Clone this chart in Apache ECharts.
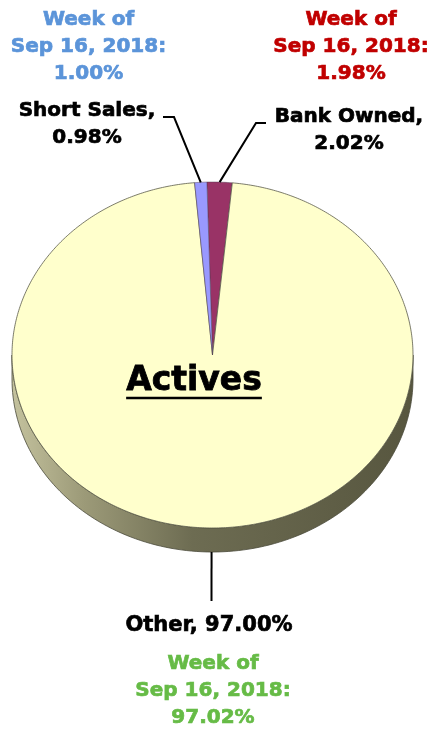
<!DOCTYPE html>
<html>
<head>
<meta charset="utf-8">
<script src="https://cdn.jsdelivr.net/npm/echarts@6/dist/echarts.min.js"></script>
<style>
html,body{margin:0;padding:0;background:#fff;}
#chart{width:433px;height:736px;}
</style>
</head>
<body>
<div id="chart"></div>
<script>
// ---- data ----
var categories = ['Bank Owned', 'Other', 'Short Sales'];
var values = [2.02, 97.00, 0.98];
var weekValues = [1.98, 97.02, 1.00];
var weekLabel = 'Week of\nSep 16, 2018:';
var sliceColors = ['#993366', '#FFFFCC', '#9999FF'];
var weekColors = ['#C00000', '#66BB46', '#5B94D9'];
var chartTitle = 'Actives';

// ---- layout ----
var CX = 212.5, CY = 355, RX = 200.5, RY = 173, DEPTH = 24;
var START_DEG = -1.6; // clockwise from 12 o'clock
var FONT = '"DejaVu Sans", sans-serif';
// label anchors (layout only)
var labelPos = [
  {x: 349, y: 130, elbow: [[256, 123], [266, 123]], week: {x: 351, y: 47}},
  {x: 209, y: 626, elbow: [[211.5, 601]], week: {x: 213, y: 691}},
  {x: 87, y: 124.5, elbow: [[174, 117], [163, 117]], week: {x: 88.5, y: 47}}
];

var total = values.reduce(function (a, b) { return a + b; }, 0);
function pt(deg, dy) {
  var r = deg * Math.PI / 180;
  return [CX + RX * Math.sin(r), CY - RY * Math.cos(r) + (dy || 0)];
}
function sliceRange(i) {
  var before = 0;
  for (var k = 0; k < i; k++) before += values[k];
  var a0 = START_DEG + before / total * 360;
  var a1 = a0 + values[i] / total * 360;
  return [a0, a1];
}

function renderItem(params, api) {
  var i = params.dataIndex;
  var v = api.value(0);
  var rng = sliceRange(i);
  var a0 = rng[0], a1 = rng[1];
  var children = [];
  // side (visible front half: 90..270 deg)
  var s0 = Math.max(a0, 90), s1 = Math.min(a1, 270);
  if (s1 > s0) {
    var side = [];
    var n = 120;
    for (var k = 0; k <= n; k++) side.push(pt(s0 + (s1 - s0) * k / n, 0));
    for (var k2 = n; k2 >= 0; k2--) side.push(pt(s0 + (s1 - s0) * k2 / n, DEPTH));
    children.push({
      type: 'polygon',
      shape: {points: side},
      style: {
        fill: new echarts.graphic.LinearGradient(0, 0, 1, 0, [
          {offset: 0, color: '#c4c29e'},
          {offset: 0.18, color: '#9c9a78'},
          {offset: 0.45, color: '#6d6c52'},
          {offset: 1, color: '#57563f'}
        ]),
        stroke: '#4a4a3a', lineWidth: 0.8
      }
    });
  }
  // top face sector
  var face = [[CX, CY]];
  var m = Math.max(4, Math.ceil((a1 - a0) * 1.5));
  for (var j = 0; j <= m; j++) face.push(pt(a0 + (a1 - a0) * j / m, 0));
  children.push({
    type: 'polygon',
    shape: {points: face},
    style: {fill: sliceColors[i], stroke: i === 1 ? '#5a5a4a' : 'rgba(80,60,80,0.6)', lineWidth: 0.8}
  });
  // leader line
  var mid = (a0 + a1) / 2;
  var start = pt(mid, (mid > 90 && mid < 270) ? DEPTH : 0);
  var pts = [start].concat(labelPos[i].elbow);
  children.push({
    type: 'polyline',
    shape: {points: pts},
    style: {stroke: '#000', lineWidth: 2, fill: null},
    z2: 10
  });
  // category label
  children.push({
    type: 'text',
    x: labelPos[i].x, y: labelPos[i].y,
    style: {
      text: (i === 1 ? categories[i] + ', ' : categories[i] + ',\n') + v.toFixed(2) + '%',
      fill: '#000', font: 'bold ' + (i === 1 ? 21 : 20) + 'px ' + FONT, lineHeight: 27,
      stroke: '#000', lineWidth: 0.7,
      align: 'center', verticalAlign: 'middle'
    },
    z2: 20
  });
  // week-of label
  children.push({
    type: 'text',
    x: labelPos[i].week.x, y: labelPos[i].week.y,
    style: {
      text: weekLabel + '\n' + weekValues[i].toFixed(2) + '%',
      fill: weekColors[i], font: 'bold 20px ' + FONT, lineHeight: 27,
      stroke: weekColors[i], lineWidth: 0.7,
      align: 'center', verticalAlign: 'middle'
    },
    z2: 20
  });
  return {type: 'group', children: children};
}

// measure title width for underline
var cv = document.createElement('canvas').getContext('2d');
cv.font = 'bold 33px ' + FONT;
var titleW = cv.measureText(chartTitle).width;
var TITLE_X = 194, TITLE_Y = 381;

var chart = echarts.init(document.getElementById('chart'), null, {renderer: 'canvas'});
chart.setOption({
  backgroundColor: '#ffffff',
  animation: false,
  series: [{
    type: 'custom',
    coordinateSystem: 'none',
    renderItem: renderItem,
    data: values.map(function (v, i) { return {name: categories[i], value: [v]}; })
  }],
  graphic: [
    {type: 'text', x: TITLE_X, y: TITLE_Y, z: 100,
     style: {text: chartTitle, fill: '#000', font: 'bold 33px ' + FONT, align: 'center', verticalAlign: 'middle',
             stroke: '#000', lineWidth: 0.8}},
    {type: 'line', z: 100,
     shape: {x1: TITLE_X - titleW / 2, y1: TITLE_Y + 17, x2: TITLE_X + titleW / 2, y2: TITLE_Y + 17},
     style: {stroke: '#000', lineWidth: 2.5}}
  ]
});
</script>
</body>
</html>
